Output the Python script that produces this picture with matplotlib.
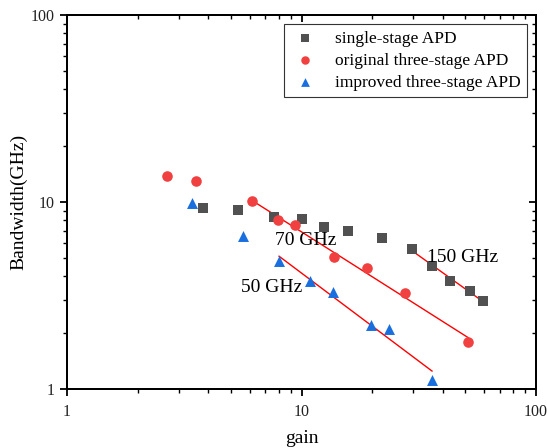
import numpy as np
import matplotlib
matplotlib.use("Agg")
import matplotlib.pyplot as plt
from matplotlib.ticker import LogLocator, NullFormatter, FixedLocator, FixedFormatter

plt.rcParams['font.family'] = ['Liberation Serif', 'DejaVu Serif']

# single-stage APD
gain_single = [3.80, 5.36, 7.63, 10.0, 12.5, 15.8, 22.0, 29.6, 36.0, 43.0, 52.3, 59.5]
bw_single = [9.29, 9.06, 8.31, 8.11, 7.35, 7.00, 6.42, 5.61, 4.55, 3.78, 3.34, 2.96]

# original three-stage APD
gain_orig = [2.67, 3.55, 6.15, 7.94, 9.38, 13.8, 19.0, 27.6, 51.3]
bw_orig = [13.8, 12.9, 10.1, 8.02, 7.53, 5.08, 4.44, 3.26, 1.78]

# improved three-stage APD
gain_impr = [3.41, 5.64, 8.02, 10.9, 13.6, 19.8, 23.6, 36.0]
bw_impr = [9.89, 6.58, 4.83, 3.78, 3.30, 2.20, 2.10, 1.12]

# gain-bandwidth product fit lines: (label, series, first index used, label position)
fit_specs = [
    ("150 GHz", "single", 7, (34.3, 5.02)),
    ("70 GHz", "orig", 2, (7.71, 6.26)),
    ("50 GHz", "impr", 2, (5.52, 3.47)),
]

C_SINGLE = '#515151'
C_ORIG = '#F14040'
C_IMPR = '#1A6FDF'


def fit_line(ax, x, y, start):
    lx = np.log10(x[start:])
    ly = np.log10(y[start:])
    k, b = np.polyfit(lx, ly, 1)
    xs = np.array([x[start], x[-1]])
    ax.plot(xs, 10 ** (k * np.log10(xs) + b), color='red', lw=1.0, zorder=2)


def main():
    fig = plt.figure(figsize=(5.47, 4.48), dpi=100)
    ax = fig.add_axes([0.1225, 0.1317, 0.8575, 0.8348])

    ax.scatter(gain_single, bw_single, marker='s', s=50, color=C_SINGLE,
               label='single-stage APD', zorder=3, linewidths=0)
    ax.scatter(gain_orig, bw_orig, marker='o', s=58, color=C_ORIG,
               label='original three-stage APD', zorder=3, linewidths=0)
    ax.scatter(gain_impr, bw_impr, marker='^', s=62, color=C_IMPR,
               label='improved three-stage APD', zorder=3, linewidths=0)

    data = {"single": (gain_single, bw_single),
            "orig": (gain_orig, bw_orig),
            "impr": (gain_impr, bw_impr)}
    for label, key, start, pos in fit_specs:
        x, y = data[key]
        fit_line(ax, x, y, start)
        ax.text(pos[0], pos[1], label, fontsize=14, va='center', ha='left', zorder=4)

    ax.set_xscale('log')
    ax.set_yscale('log')
    ax.set_xlim(1, 100)
    ax.set_ylim(1, 100)

    for a in (ax.xaxis, ax.yaxis):
        a.set_major_locator(FixedLocator([1, 10, 100]))
        a.set_major_formatter(FixedFormatter(['1', '10', '100']))
        a.set_minor_locator(LogLocator(base=10, subs=np.arange(2, 10)))
        a.set_minor_formatter(NullFormatter())

    ax.tick_params(which='major', direction='out', length=5, width=1.3,
                   labelsize=11.5, pad=4, labelcolor='#222222')
    ax.tick_params(which='minor', direction='out', length=3, width=1.0)
    ax.tick_params(axis='x', which='major', pad=6)
    for sp in ax.spines.values():
        sp.set_linewidth(1.4)

    # inward ticks on the top and right frame
    axr = ax.twinx()
    axr.set_yscale('log')
    axr.set_ylim(1, 100)
    axt = ax.twiny()
    axt.set_xscale('log')
    axt.set_xlim(1, 100)
    for tw, a in ((axr, axr.yaxis), (axt, axt.xaxis)):
        a.set_major_locator(FixedLocator([1, 10, 100]))
        a.set_minor_locator(LogLocator(base=10, subs=np.arange(2, 10)))
        a.set_major_formatter(NullFormatter())
        a.set_minor_formatter(NullFormatter())
        tw.tick_params(which='major', direction='in', length=5, width=1.3)
        tw.tick_params(which='minor', direction='in', length=3, width=1.0)
        for sp in tw.spines.values():
            sp.set_linewidth(1.4)

    ax.set_xlabel('gain', fontsize=14, labelpad=7)
    ax.set_ylabel('Bandwidth(GHz)', fontsize=14, labelpad=2)

    leg = ax.legend(loc='upper right', fontsize=12.5, frameon=True, fancybox=False,
                    edgecolor='#333333', framealpha=1, borderpad=0.4,
                    labelspacing=0.33, handletextpad=0.9, handlelength=1.6,
                    borderaxespad=0.5, scatterpoints=1, markerscale=0.8)
    leg.get_frame().set_linewidth(0.8)

    fig.savefig('out.png', dpi=100)


if __name__ == "__main__":
    main()
